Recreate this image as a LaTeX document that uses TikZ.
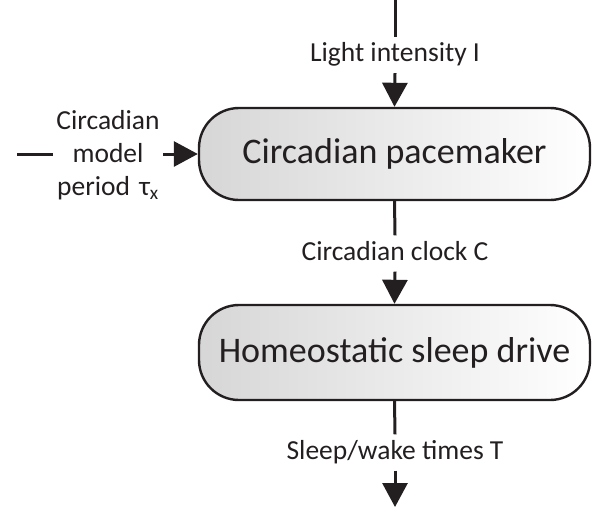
\documentclass[tikz,border=0pt]{standalone}
\usepackage{fontspec}
\setmainfont{Carlito}
\usetikzlibrary{arrows.meta}
\definecolor{ink}{HTML}{231F20}
\tikzset{
  procbox/.style={draw=ink, line width=2.4pt, rounded corners=40pt,
    left color=black!16, middle color=black!1, right color=white,
    minimum width=391pt, inner sep=0pt, text=ink,
    font=\fontsize{36}{40}\selectfont},
  lbl/.style={text=ink, font=\fontsize{27.5}{33}\selectfont,
    text height=20pt, text depth=7pt, inner xsep=2pt, inner ysep=4.5pt},
  conn/.style={draw=ink, line width=3pt},
  arr/.style={conn, -{Triangle[length=24pt,width=25pt]}}
}
\begin{document}
\begin{tikzpicture}[x=1pt,y=-1pt]
\useasboundingbox (0,0) rectangle (602,509);
\node[procbox, minimum height=92pt] (pace) at (394.5,154) {Circadian pacemaker};
\node[procbox, minimum height=95pt] (homeo) at (394.5,352.5) {Homeostatic sleep drive};
\coordinate (top) at (395,0);
\node[lbl] (light) at (395,55) {Light intensity I};
\node[lbl] (clock) at (395,253.5) {Circadian clock C};
\node[lbl] (sleep) at (395,452.5) {Sleep/wake times T};
\coordinate (out) at (395,507);
\coordinate (leftin) at (17,154);
\node[text=ink, font=\fontsize{27.5}{33}\selectfont, align=center,
  text width=110pt, inner xsep=0pt, inner ysep=0pt] (period) at (108,155)
  {Circadian\\model\\period τ\textsubscript{x}};
\draw[conn] (top) -- (light.north);
\draw[arr] (light.south) -- (pace.north);
\draw[conn] (pace.south) -- (clock.north);
\draw[arr] (clock.south) -- (homeo.north);
\draw[conn] (homeo.south) -- (sleep.north);
\draw[arr] (sleep.south) -- (out);
\draw[conn] (leftin) -- (period.west |- leftin);
\draw[arr] (period.east |- leftin) -- (pace.west);
\end{tikzpicture}
\end{document}
